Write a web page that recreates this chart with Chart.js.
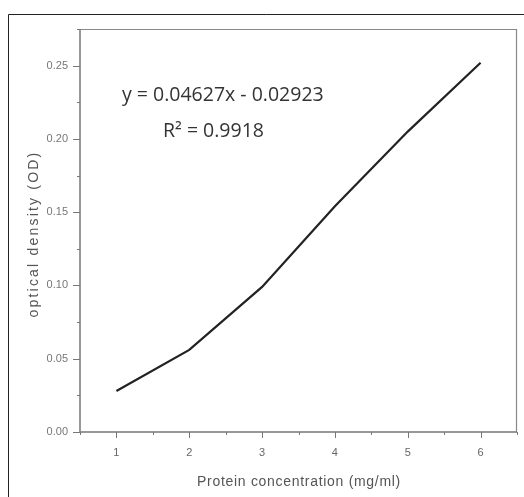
<!DOCTYPE html>
<html><head><meta charset="utf-8">
<script src="https://cdn.jsdelivr.net/npm/chart.js@4/dist/chart.umd.min.js"></script>
<style>html,body{margin:0;padding:0;background:#fff;}#wrap{width:524px;height:497px;}</style>
</head><body><div id="wrap"><canvas id="c" width="524" height="497"></canvas></div>
<script>
const concentrations = [1, 2, 3, 4, 5, 6];
const odValues = [0.028, 0.056, 0.099, 0.154, 0.205, 0.252];
const xTickLabels = [1, 2, 3, 4, 5, 6];
const yTickLabels = [0.00, 0.05, 0.10, 0.15, 0.20, 0.25];
const xTitle = "Protein concentration (mg/ml)";
const yTitle = "optical density (OD)";
const equationText = "y = 0.04627x - 0.02923";
const r2Text = "R\u00B2 = 0.9918";

const isMajor = (v, arr) => arr.some(a => Math.abs(a - v) < 1e-6);

const extras = {
  id: 'extras',
  beforeDraw(chart) {
    const ctx = chart.ctx;
    ctx.save();
    ctx.fillStyle = '#fff';
    ctx.fillRect(0, 0, chart.width, chart.height);
    ctx.restore();
  },
  afterDraw(chart) {
    const ctx = chart.ctx, a = chart.chartArea;
    const xs = chart.scales.x, ys = chart.scales.y;
    ctx.save();
    // outer border
    ctx.strokeStyle = '#222'; ctx.lineWidth = 1;
    ctx.beginPath();
    ctx.moveTo(8.5, 497); ctx.lineTo(8.5, 14.5); ctx.lineTo(524, 14.5);
    ctx.stroke();
    // plot box top/right
    ctx.strokeStyle = '#888'; ctx.lineWidth = 1.2;
    ctx.beginPath();
    ctx.moveTo(a.left, a.top + 0.5); ctx.lineTo(a.right - 0.5, a.top + 0.5); ctx.lineTo(a.right - 0.5, a.bottom);
    ctx.stroke();
    // axes
    ctx.strokeStyle = '#777'; ctx.lineWidth = 1.5;
    ctx.beginPath();
    ctx.moveTo(a.left, a.top); ctx.lineTo(a.left, a.bottom); ctx.lineTo(a.right, a.bottom);
    ctx.stroke();
    // ticks
    ctx.lineWidth = 1;
    for (let v = 0.5; v <= 6.5001; v += 0.5) {
      const px = Math.round(xs.getPixelForValue(v)) + 0.5;
      const len = isMajor(v, xTickLabels) ? 6 : 3;
      ctx.beginPath(); ctx.moveTo(px, a.bottom); ctx.lineTo(px, a.bottom + len); ctx.stroke();
    }
    for (let v = 0; v <= 0.2751; v += 0.025) {
      const py = Math.round(ys.getPixelForValue(v)) + 0.5;
      const len = isMajor(v, yTickLabels) ? 7 : 3;
      ctx.beginPath(); ctx.moveTo(a.left - len, py); ctx.lineTo(a.left, py); ctx.stroke();
    }
    // axis titles
    ctx.fillStyle = '#555';
    ctx.textAlign = 'center';
    ctx.textBaseline = 'middle';
    ctx.font = '14px "Liberation Sans", sans-serif';
    ctx.letterSpacing = '0.7px';
    ctx.fillText(xTitle, 299, 482);
    ctx.save();
    ctx.translate(34, 234);
    ctx.rotate(-Math.PI / 2);
    ctx.font = '14px "Liberation Sans", sans-serif';
    ctx.letterSpacing = '2.2px';
    ctx.fillText(yTitle, 0, 0);
    ctx.restore();
    ctx.letterSpacing = '0px';
    // annotation
    ctx.fillStyle = '#333';
    ctx.font = '19.5px "Open Sans", "Liberation Sans", sans-serif';
    ctx.textBaseline = 'middle';
    ctx.textAlign = 'left';
    ctx.fillText(equationText, 122, 95);
    ctx.fillText(r2Text, 163, 131);
    ctx.restore();
  }
};

new Chart(document.getElementById('c'), {
  type: 'line',
  data: {
    datasets: [{
      data: concentrations.map((x, i) => ({ x, y: odValues[i] })),
      borderColor: '#222',
      borderWidth: 2.2,
      pointRadius: 0,
      tension: 0,
      fill: false
    }]
  },
  options: {
    responsive: false,
    animation: false,
    devicePixelRatio: 1,
    layout: { padding: { left: 8, top: 29, right: 7, bottom: 0 } },
    plugins: { legend: { display: false }, tooltip: { enabled: false } },
    scales: {
      x: {
        type: 'linear', min: 0.5, max: 6.5,
        border: { display: false },
        grid: { display: false, drawTicks: false },
        afterBuildTicks(s) { s.ticks = xTickLabels.map(v => ({ value: v })); },
        ticks: {
          padding: 14, color: '#666',
          font: { family: 'Liberation Sans', size: 11 },
          callback: v => String(v)
        },
        title: { display: false },
        afterFit(s) { s.height = 65; }
      },
      y: {
        type: 'linear', min: 0, max: 0.275,
        border: { display: false },
        grid: { display: false, drawTicks: false },
        afterBuildTicks(s) { s.ticks = yTickLabels.map(v => ({ value: v })); },
        ticks: {
          padding: 12, color: '#777',
          font: { family: 'Liberation Sans', size: 11 },
          callback: v => Number(v).toFixed(2)
        },
        title: { display: false },
        afterFit(s) { s.width = 72; }
      }
    }
  },
  plugins: [extras]
});
</script></body></html>
